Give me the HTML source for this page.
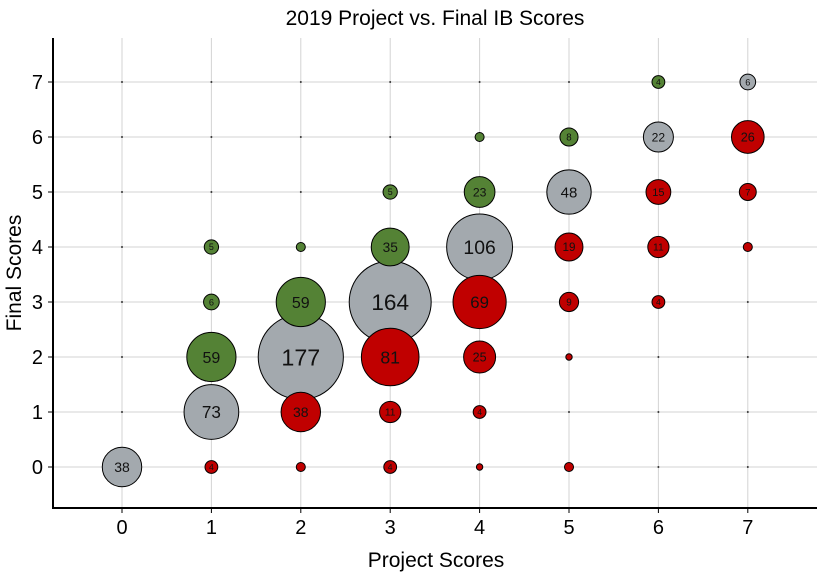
<!DOCTYPE html>
<html><head><meta charset="utf-8"><style>
body{margin:0;background:#fff;font-family:"Liberation Sans",Arial,sans-serif}
</style></head><body>
<svg id="chart" width="826" height="574" xmlns="http://www.w3.org/2000/svg">
<rect width="826" height="574" fill="#fff"/>
<text x="435" y="25" text-anchor="middle" font-size="21" fill="#000">2019 Project vs. Final IB Scores</text>
<g id="grid"></g><g id="marks"></g><g id="axes"></g>
<text x="436" y="567" text-anchor="middle" font-size="21">Project Scores</text>
<text transform="translate(21,273) rotate(-90)" text-anchor="middle" font-size="21">Final Scores</text>
</svg>
<script>
const xCats=[0,1,2,3,4,5,6,7];
const yCats=[0,1,2,3,4,5,6,7];
// counts[x][y]
const col0=[38,0,0,0,0,0,0,0];
const col1=[4,73,59,6,5,0,0,0];
const col2=[2,38,177,59,2,0,0,0];
const col3=[4,11,81,164,35,5,0,0];
const col4=[1,4,25,69,106,23,2,0];
const col5=[2,0,1,9,19,48,8,0];
const col6=[0,0,0,4,11,15,22,4];
const col7=[0,0,0,0,2,7,26,6];
const counts=[col0,col1,col2,col3,col4,col5,col6,col7];
const NS="http://www.w3.org/2000/svg";
function sx(v){return 122+v*89.4;}
function sy(v){return 467-v*55;}
const grid=document.getElementById('grid'),marks=document.getElementById('marks'),axes=document.getElementById('axes');
function mk(tag,attrs,parent){const e=document.createElementNS(NS,tag);for(const k in attrs)e.setAttribute(k,attrs[k]);parent.appendChild(e);return e;}
xCats.forEach(v=>{
  const l=mk('line',{x1:sx(v),x2:sx(v),y1:38,y2:508,stroke:'#d3d3d3','stroke-width':1},grid);
  
  
  const t=mk('line',{x1:sx(v),x2:sx(v),y1:508,y2:513,stroke:'#000'},axes);
  
  
  const tx=mk('text',{x:sx(v),y:534,'text-anchor':'middle','font-size':20,fill:'#000'},axes);
  tx.textContent=v;
  
  
});
yCats.forEach(v=>{
  const l=mk('line',{x1:53,x2:817,y1:sy(v),y2:sy(v),stroke:'#d3d3d3','stroke-width':1},grid);
  
  
  const t=mk('line',{x1:48,x2:53,y1:sy(v),y2:sy(v),stroke:'#000'},axes);
  
  
  const tx=mk('text',{x:43,y:sy(v)+7,'text-anchor':'end','font-size':20,fill:'#000'},axes);
  tx.textContent=v;
  
  
});
const ax=mk('line',{x1:53,x2:53,y1:38,y2:509,stroke:'#000','stroke-width':2},axes);


const bx=mk('line',{x1:52,x2:817,y1:508,y2:508,stroke:'#000','stroke-width':2},axes);


const pts=[];
xCats.forEach((x,i)=>yCats.forEach((y,j)=>pts.push({x,y,n:counts[i][j]})));
pts.sort((a,b)=>b.n-a.n);
pts.forEach(p=>{
  const fill=p.x===p.y?'#a3a9ae':(p.y>p.x?'#548235':'#c00000');
  if(p.n===0){
    const d=mk('circle',{cx:sx(p.x),cy:sy(p.y),r:1,fill:'#333'},marks);
    
    
    return;
  }
  const r=Math.max(3,3.2*Math.sqrt(p.n));
  const c=mk('circle',{cx:sx(p.x),cy:sy(p.y),r:r,fill:fill,stroke:'#000','stroke-width':1},marks);
  
  
  if(p.n>=3){
    const fs=6+1.3*Math.sqrt(p.n);
    const t=mk('text',{x:sx(p.x),y:sy(p.y)+fs*0.36,'text-anchor':'middle','font-size':fs.toFixed(1),fill:'#111'},marks);
    t.textContent=p.n;
    
    
  }
});
</script>
</body></html>
